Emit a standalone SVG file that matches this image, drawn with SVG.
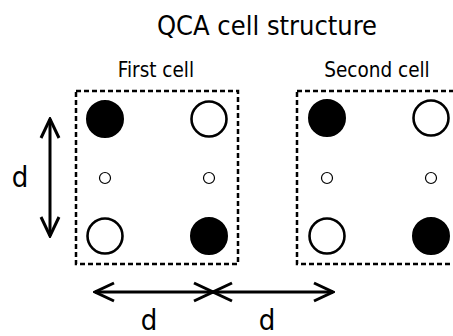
<svg xmlns="http://www.w3.org/2000/svg" width="453" height="336" viewBox="0 0 453 336">
  <style>
    text { font-family: "DejaVu Sans Condensed", "DejaVu Sans", sans-serif; fill: #000; }
    .title { font-size: 27px; }
    .label { font-size: 20.5px; }
    .dim { font-size: 29px; }
    .frame { fill: none; stroke: #000; stroke-width: 2.5; stroke-dasharray: 5 3; }
    .full { fill: #000; stroke: #000; stroke-width: 2; }
    .empty { fill: #fff; stroke: #000; stroke-width: 2.6; }
    .site { fill: #fff; stroke: #000; stroke-width: 1.2; }
    .arrow { fill: none; stroke: #000; stroke-width: 3; }
  </style>
  <defs>
    <!-- open chevron head, sized in user units -->
    <marker id="chevron" viewBox="-22 -12 24 24" markerWidth="24" markerHeight="24" refX="0" refY="0" orient="auto-start-reverse" markerUnits="userSpaceOnUse">
      <path d="M-19,-9 L0,0 L-19,9" fill="none" stroke="#000" stroke-width="3"/>
    </marker>
  </defs>
  <rect width="453" height="336" fill="#fff"/>

  <text class="title" x="267" y="35" text-anchor="middle">QCA cell structure</text>

  <g id="cell1">
    <rect class="frame" x="76" y="91" width="162" height="173"/>
    <text class="label" x="156" y="77" text-anchor="middle">First cell</text>
    <circle class="full" cx="105" cy="119" r="18"/>
    <circle class="empty" cx="209" cy="119" r="17.5"/>
    <circle class="site" cx="105" cy="178" r="5.5"/>
    <circle class="site" cx="209" cy="178" r="5.5"/>
    <circle class="empty" cx="105" cy="236" r="17.5"/>
    <circle class="full" cx="209" cy="236" r="18"/>
  </g>

  <g id="cell2">
    <rect class="frame" x="297" y="91" width="170" height="173"/>
    <text class="label" x="377" y="77" text-anchor="middle">Second cell</text>
    <circle class="full" cx="327" cy="118" r="18"/>
    <circle class="empty" cx="431" cy="118" r="17.5"/>
    <circle class="site" cx="327" cy="178" r="5.5"/>
    <circle class="site" cx="431" cy="178" r="5.5"/>
    <circle class="empty" cx="327" cy="236" r="17.5"/>
    <circle class="full" cx="431" cy="236" r="18"/>
  </g>

  <g id="connectors">
    <line class="arrow" x1="50" y1="119" x2="50" y2="236" marker-start="url(#chevron)" marker-end="url(#chevron)"/>
    <line class="arrow" x1="95" y1="292" x2="213" y2="292" marker-start="url(#chevron)" marker-end="url(#chevron)"/>
    <line class="arrow" x1="213" y1="292" x2="333" y2="292" marker-start="url(#chevron)" marker-end="url(#chevron)"/>
  </g>

  <g id="dimensions">
    <text class="dim" x="20" y="187" text-anchor="middle">d</text>
    <text class="dim" x="149" y="330" text-anchor="middle">d</text>
    <text class="dim" x="267" y="330" text-anchor="middle">d</text>
  </g>
</svg>
